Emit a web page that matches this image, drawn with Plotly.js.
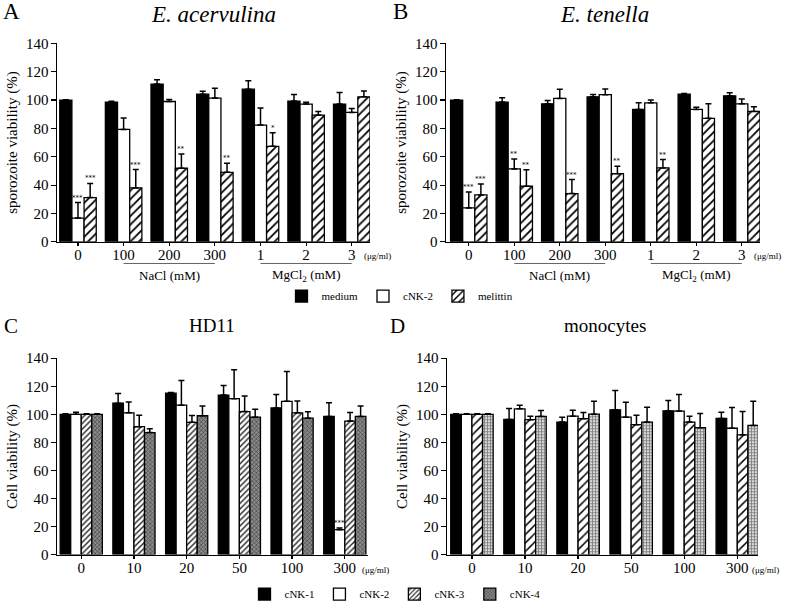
<!DOCTYPE html>
<html>
<head>
<meta charset="utf-8">
<script src="https://cdn.plot.ly/plotly-3.0.1.min.js"></script>
<style>html,body{margin:0;padding:0;background:#fff;}#chart{width:787px;height:609px;}</style>
</head>
<body>
<div id="chart"></div>
<script>
// ---------- data ----------
const catsAB = ["0", "100", "200", "300", "1", "2", "3"];
const catsCD = ["0", "10", "20", "50", "100", "300"];

// Panel A: E. acervulina
const aMedium    = [100, 98.6, 111.3, 104.2, 107.7, 99.3, 97.2];
const aMediumErr = [0.3, 0.5, 3, 2, 6, 4.7, 8.2];
const aCnk2      = [16.7, 79.3, 99, 101.4, 82.4, 97.2, 91.3];
const aCnk2Err   = [11, 8, 1.5, 7, 12, 1.2, 2.8];
const aMel       = [31.2, 38, 51.9, 49, 67.4, 89.4, 102.3];
const aMelErr    = [10, 13, 10, 6.5, 9.6, 2.6, 4.2];
const aCnk2Stars = ["***", "", "", "", "", "", ""];
const aMelStars  = ["***", "***", "**", "**", "*", "", ""];

// Panel B: E. tenella
const bMedium    = [100, 98.6, 97.4, 102.3, 93.4, 104.2, 103];
const bMediumErr = [0.3, 3, 2.4, 1.7, 4.7, 0.5, 2.1];
const bCnk2      = [23.9, 51.4, 101.2, 103.8, 98.1, 93.4, 97.4];
const bCnk2Err   = [11.3, 7, 6.5, 4, 1.9, 1.6, 3.3];
const bMel       = [33.1, 39.2, 34, 48.1, 52.1, 87.1, 92];
const bMelErr    = [7.7, 11.7, 9.9, 5.2, 5.9, 10.3, 3.3];
const bCnk2Stars = ["***", "**", "", "", "", "", ""];
const bMelStars  = ["***", "**", "***", "**", "**", "", ""];

// Panel C: HD11
const cN1 = [100, 107.9, 115.1, 113.7, 104.6, 98.5];
const cN1Err = [0.5, 7, 0.5, 6.8, 9.6, 9.8];
const cN2 = [100, 101.1, 106.5, 111.2, 109.3, 17.8];
const cN2Err = [1.5, 7.7, 17.6, 20.6, 21.3, 1.2];
const cN3 = [100, 91.2, 94.3, 102, 101.1, 95.2];
const cN3Err = [0.5, 8.2, 4.9, 11, 8.4, 6.1];
const cN4 = [100, 87, 99, 98, 97.3, 98.5];
const cN4Err = [0.5, 2.8, 7, 5.7, 4.5, 7.5];
const cN2Stars = ["", "", "", "", "", "***"];

// Panel D: monocytes
const dN1 = [100, 96.4, 94.5, 103.2, 102.5, 97.1];
const dN1Err = [0.4, 7.7, 3.5, 13.8, 7.3, 4.4];
const dN2 = [100, 103.9, 98.7, 98, 102.3, 90.1];
const dN2Err = [0.4, 2.6, 4.2, 10.6, 11.9, 14.7];
const dN3 = [100, 96.2, 96.9, 92.6, 94.5, 85.4];
const dN3Err = [0.4, 2.5, 4.4, 6.8, 4.2, 16.6];
const dN4 = [100, 98.5, 100.1, 94.5, 90.5, 92.1];
const dN4Err = [0.5, 4.2, 9.2, 10.5, 10.1, 17.2];

const yTicks = [0, 20, 40, 60, 80, 100, 120, 140];

// ---------- styles ----------
const FONT = "Liberation Serif, Times New Roman, serif";
const BARGAP = 0.2;
const W = 787, H = 609;
const px = v => v / W;
const py = v => (H - v) / H;

const styles = {
  black:  {color: "#000000", line: {color: "#000", width: 1.3}},
  white:  {color: "#ffffff", line: {color: "#000", width: 1.3}},
  hatchA: {color: "#ffffff", line: {color: "#000", width: 1.3},
           pattern: {shape: "/", fgcolor: "#000", bgcolor: "#fff", size: 6, solidity: 0.3, fillmode: "replace"}},
  hatchC: {color: "#ffffff", line: {color: "#000", width: 1.3},
           pattern: {shape: "/", fgcolor: "#222", bgcolor: "#fff", size: 4, solidity: 0.35, fillmode: "replace"}},
  hatchD: {color: "#ffffff", line: {color: "#000", width: 1.3},
           pattern: {shape: "/", fgcolor: "#000", bgcolor: "#fff", size: 6, solidity: 0.25, fillmode: "replace"}},
  dotsC:  {color: "#7a7a7a", line: {color: "#000", width: 1.3},
           pattern: {shape: "x", fgcolor: "#444", bgcolor: "#8a8a8a", size: 3, solidity: 0.4, fillmode: "replace"}},
  dotsD:  {color: "#b0b0b0", line: {color: "#000", width: 1.3},
           pattern: {shape: "+", fgcolor: "#777", bgcolor: "#d8d8d8", size: 3, solidity: 0.45, fillmode: "replace"}}
};

function barTrace(name, cats, vals, errs, style, xa, ya, legendId, show) {
  return {
    type: "bar", name: name,
    x: cats.map((_, i) => i), y: vals,
    xaxis: xa, yaxis: ya,
    marker: style,
    error_y: {type: "data", symmetric: false, array: errs, arrayminus: errs.map(() => 0),
              color: "#000", thickness: 1.5, width: 3},
    showlegend: show, legend: legendId,
    hoverinfo: "skip"
  };
}

const traces = [
  barTrace("medium", catsAB, aMedium, aMediumErr, styles.black, "x", "y", "legend", true),
  barTrace("cNK-2", catsAB, aCnk2, aCnk2Err, styles.white, "x", "y", "legend", true),
  barTrace("melittin", catsAB, aMel, aMelErr, styles.hatchA, "x", "y", "legend", true),
  barTrace("medium", catsAB, bMedium, bMediumErr, styles.black, "x2", "y2", "legend", false),
  barTrace("cNK-2", catsAB, bCnk2, bCnk2Err, styles.white, "x2", "y2", "legend", false),
  barTrace("melittin", catsAB, bMel, bMelErr, styles.hatchA, "x2", "y2", "legend", false),
  barTrace("cNK-1", catsCD, cN1, cN1Err, styles.black, "x3", "y3", "legend2", true),
  barTrace("cNK-2", catsCD, cN2, cN2Err, styles.white, "x3", "y3", "legend2", true),
  barTrace("cNK-3", catsCD, cN3, cN3Err, styles.hatchD, "x3", "y3", "legend2", true),
  barTrace("cNK-4", catsCD, cN4, cN4Err, styles.dotsD, "x3", "y3", "legend2", true),
  barTrace("cNK-1", catsCD, dN1, dN1Err, styles.black, "x4", "y4", "legend2", false),
  barTrace("cNK-2", catsCD, dN2, dN2Err, styles.white, "x4", "y4", "legend2", false),
  barTrace("cNK-3", catsCD, dN3, dN3Err, styles.hatchD, "x4", "y4", "legend2", false),
  barTrace("cNK-4", catsCD, dN4, dN4Err, styles.dotsD, "x4", "y4", "legend2", false)
];
// panel C uses its own denser patterns
traces[8].marker = styles.hatchC;
traces[9].marker = styles.dotsC;

// ---------- axes ----------
function xAxis(cats, domain, range, anchor) {
  return {
    domain: domain, range: range, anchor: anchor,
    tickmode: "array", tickvals: cats.map((_, i) => i), ticktext: cats,
    showline: true, linecolor: "#000", linewidth: 1.5,
    ticks: "outside", ticklen: 3, tickwidth: 1.2, tickcolor: "#000",
    ticklabelstandoff: -4,
    showgrid: false, zeroline: false, automargin: false,
    tickfont: {family: FONT, size: 15, color: "#000"}
  };
}
function yAxis(title, domain, anchor) {
  return {
    domain: domain, range: [0, 140], anchor: anchor,
    tickmode: "array", tickvals: yTicks, ticktext: yTicks.map(String),
    showline: true, linecolor: "#000", linewidth: 1.5,
    ticks: "outside", ticklen: 5, tickwidth: 1.2, tickcolor: "#000",
    ticklabelstandoff: -1,
    showgrid: false, zeroline: false, automargin: false,
    tickfont: {family: FONT, size: 15, color: "#000"},
    title: {text: title, font: {family: FONT, size: 15, color: "#000"}, standoff: 4}
  };
}

// ---------- annotations ----------
const annotations = [];
function addText(text, x, y, size, opts) {
  annotations.push(Object.assign({
    text: text, x: x, y: y, xref: "paper", yref: "paper", showarrow: false,
    xanchor: "center", yanchor: "middle",
    font: {family: FONT, size: size, color: "#000"}
  }, opts || {}));
}
addText("A", px(11), py(12), 23);
addText("<i>E. acervulina</i>", px(213), py(15), 23);
addText("B", px(400), py(12), 23);
addText("<i>E. tenella</i>", px(604), py(15), 23);
addText("C", px(11), py(330), 21);
addText("HD11", px(212), py(330), 19);
addText("D", px(397), py(330), 21);
addText("monocytes", px(605), py(330), 19);

// unit labels
addText("(μg/ml)", px(362), py(259), 9, {xanchor: "left"});
addText("(μg/ml)", px(752), py(259), 9, {xanchor: "left"});
addText("(μg/ml)", px(360), py(578), 9, {xanchor: "left"});
addText("(μg/ml)", px(750), py(578), 9, {xanchor: "left"});

// salt group labels & lines
const shapes = [];
["x", "x2"].forEach(xr => {
  const i100 = catsAB.indexOf("100"), i300 = catsAB.indexOf("300");
  const i1 = catsAB.indexOf("1"), i3 = catsAB.indexOf("3");
  shapes.push({type: "line", xref: xr, yref: "paper", x0: i100, x1: i300, y0: py(267), y1: py(267),
               line: {color: "#666", width: 1}});
  shapes.push({type: "line", xref: xr, yref: "paper", x0: i1, x1: i3, y0: py(267), y1: py(267),
               line: {color: "#666", width: 1}});
  annotations.push({text: "NaCl (mM)", x: (i100 + i300) / 2, y: py(279), xref: xr, yref: "paper",
                    showarrow: false, font: {family: FONT, size: 13, color: "#000"}});
  annotations.push({text: "MgCl<sub>2</sub> (mM)", x: (i1 + i3) / 2, y: py(279), xref: xr, yref: "paper",
                    showarrow: false, font: {family: FONT, size: 13, color: "#000"}});
});

// significance stars
function addStars(stars, vals, errs, k, n, xr, yr) {
  const w = (1 - BARGAP) / n;
  stars.forEach((s, i) => {
    if (!s) return;
    annotations.push({text: s, x: i - (1 - BARGAP) / 2 + w * (k + 0.5), y: vals[i] + errs[i],
                      xref: xr, yref: yr, showarrow: false, yanchor: "bottom", yshift: -1,
                      font: {family: "DejaVu Sans", size: 7, color: "#000"}});
  });
}
addStars(aCnk2Stars, aCnk2, aCnk2Err, 1, 3, "x", "y");
addStars(aMelStars, aMel, aMelErr, 2, 3, "x", "y");
addStars(bCnk2Stars, bCnk2, bCnk2Err, 1, 3, "x2", "y2");
addStars(bMelStars, bMel, bMelErr, 2, 3, "x2", "y2");
addStars(cN2Stars, cN2, cN2Err, 1, 4, "x3", "y3");

const layout = {
  width: W, height: H,
  margin: {l: 0, r: 0, t: 0, b: 0},
  paper_bgcolor: "#fff", plot_bgcolor: "#fff",
  barmode: "group", bargap: BARGAP, bargroupgap: 0,
  font: {family: FONT, color: "#000"},
  xaxis:  xAxis(catsAB, [px(57), px(370)], [-0.46, 6.40], "y"),
  yaxis:  yAxis("sporozoite viability (%)", [py(245), py(44)], "x"),
  xaxis2: xAxis(catsAB, [px(446), px(760)], [-0.50, 6.40], "y2"),
  yaxis2: yAxis("sporozoite viability (%)", [py(245), py(44)], "x2"),
  xaxis3: xAxis(catsCD, [px(57), px(368)], [-0.46, 5.44], "y3"),
  yaxis3: yAxis("Cell viability (%)", [py(562), py(363)], "x3"),
  xaxis4: xAxis(catsCD, [px(447), px(758)], [-0.47, 5.39], "y4"),
  yaxis4: yAxis("Cell viability (%)", [py(562), py(363)], "x4"),
  legend: {orientation: "h", x: px(400), xanchor: "center", y: py(300), yanchor: "middle",
           font: {family: FONT, size: 11, color: "#000"}, bgcolor: "rgba(0,0,0,0)",
           itemwidth: 30, tracegroupgap: 0},
  legend2: {orientation: "h", x: px(395), xanchor: "center", y: py(602), yanchor: "middle",
            font: {family: FONT, size: 11, color: "#000"}, bgcolor: "rgba(0,0,0,0)",
            itemwidth: 30, tracegroupgap: 0},
  annotations: annotations,
  shapes: shapes,
  showlegend: true
};

Plotly.newPlot("chart", traces, layout, {staticPlot: true, displayModeBar: false});
</script>
</body>
</html>
